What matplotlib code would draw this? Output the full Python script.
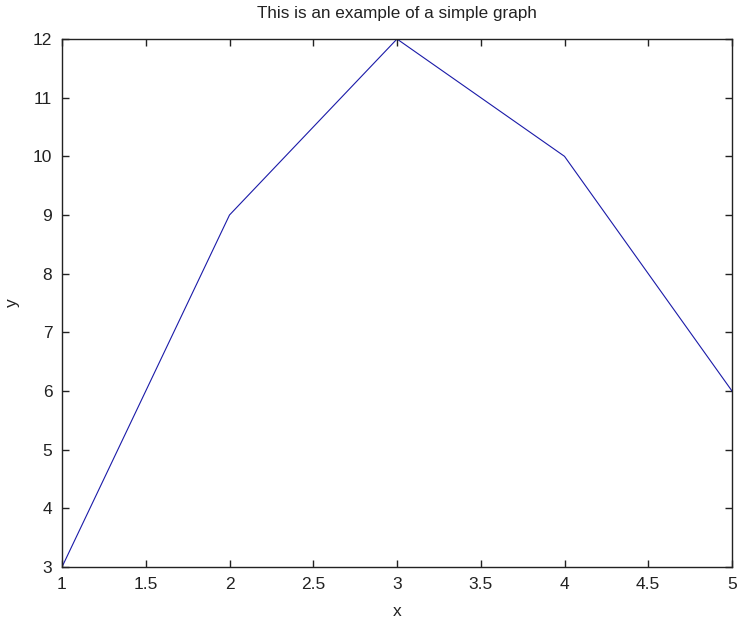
import matplotlib
matplotlib.use("Agg")
import matplotlib.pyplot as plt

x = [1, 2, 3, 4, 5]
y = [3, 9, 12, 10, 6]
xticks = [1, 1.5, 2, 2.5, 3, 3.5, 4, 4.5, 5]
xticklabels = ["1", "1.5", "2", "2.5", "3", "3.5", "4", "4.5", "5"]
yticks = [3, 4, 5, 6, 7, 8, 9, 10, 11, 12]

plt.rcParams['font.family'] = ['Liberation Sans', 'DejaVu Sans']

fig = plt.figure(figsize=(7.4, 6.19), dpi=100)
ax = fig.add_axes([62/740, (619-567)/619, (732-62)/740, (567-39)/619])
ax.plot(x, y, color='#1a1aa8', linewidth=0.8)
ax.set_xlim(1, 5)
ax.set_ylim(3, 12)
ax.set_xticks(xticks)
ax.set_xticklabels(xticklabels)
ax.set_yticks(yticks)
ax.tick_params(direction='in', top=True, right=True, length=5, width=1,
               labelsize=12.5, pad=7, colors='#222222')
for s in ax.spines.values():
    s.set_linewidth(1)
    s.set_color('#222222')
ax.set_title("This is an example of a simple graph", fontsize=12.3, pad=15, color='#222222')
ax.set_xlabel("x", fontsize=12.5, labelpad=9, color='#222222')
ax.set_ylabel("y", fontsize=12.5, labelpad=9, color='#222222')
fig.savefig("out.png", dpi=100)
